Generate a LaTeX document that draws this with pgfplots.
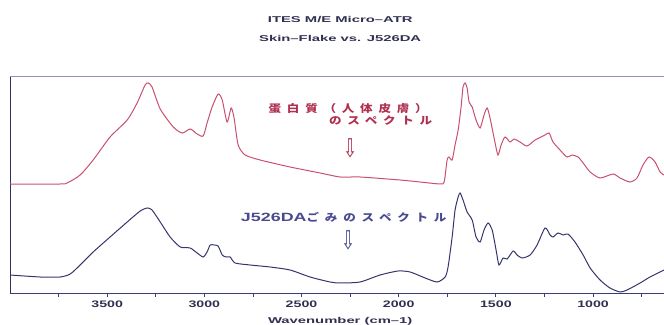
\documentclass[border=0pt]{standalone}
\usepackage{pgfplots}
\pgfplotsset{compat=1.18}
\usepackage{fontspec}
\setmainfont{Liberation Sans}
\newfontfamily\tickfont[FakeStretch=1.5]{Liberation Sans}
\newfontfamily\titlefont[FakeStretch=1.75]{Liberation Sans}
\newfontfamily\cjk[FakeStretch=1.2,LetterSpace=55]{Noto Sans CJK JP}
\newfontfamily\arrowfont[FakeStretch=0.65]{DejaVu Sans}
\definecolor{redline}{HTML}{C8506E}
\definecolor{redtext}{HTML}{B03050}
\definecolor{blueline}{HTML}{35356E}
\definecolor{bluetext}{HTML}{4A4A90}
\definecolor{axisc}{HTML}{3C3C78}
\definecolor{topc}{HTML}{9090C0}
\definecolor{titlec}{HTML}{303050}
\begin{document}
\begin{tikzpicture}
\begin{axis}[name=ax, scale only axis, width=654bp, height=217bp,
  x dir=reverse, xmin=635, xmax=4000, ymin=0, ymax=217,
  separate axis lines,
  axis x line*=bottom, axis y line*=left,
  x axis line style={draw=axisc, line width=0.9bp},
  y axis line style={draw=axisc!80!black, line width=0.9bp},
  ytick=\empty,
  xtick={1000,1500,2000,2500,3000,3500},
  minor xtick={750,1250,1750,2250,2750,3250,3750},
  tick align=outside, major tick length=4bp, minor tick length=4bp,
  tick style={draw=axisc, line width=0.8bp},
  /pgf/number format/assume math mode=true,
  /pgf/number format/1000 sep={},
  xticklabel style={font=\tickfont\bfseries\fontsize{9.5}{10}\selectfont, text=titlec},
  clip=false]
\draw[topc, line width=0.9bp] (rel axis cs:0,1) -- (rel axis cs:1,1);
\addplot[redline, line width=1bp, smooth, tension=0.4] coordinates {
(3999,109)(3742,109)(3706,110)(3639,118)(3572,133)(3485,156)(3397,173)(3346,190)(3305,208)(3289,210)(3269,206)(3227,184)(3160,166)(3114,160)(3073,164)(3037,159)(3006,157)(2986,170)(2960,186)(2929,199)(2908,193)(2883,171)(2862,185)(2847,175)(2826,148)(2790,138)(2713,133)(2559,126)(2404,120)(2301,116)(2199,116)(1993,113)(1890,111)(1787,109)(1766,111)(1751,133)(1741,136)(1725,133)(1710,148)(1694,163)(1679,186)(1669,206)(1658,210)(1648,205)(1638,191)(1622,186)(1602,173)(1581,165)(1561,178)(1545,185)(1530,175)(1504,150)(1489,138)(1473,148)(1453,156)(1427,151)(1406,154)(1376,151)(1340,147)(1298,153)(1247,158)(1226,160)(1206,151)(1170,143)(1134,136)(1108,138)(1077,136)(1051,130)(1015,121)(964,115)(897,119)(861,115)(810,111)(774,115)(743,128)(712,136)(681,131)(655,121)(635,118)
};
\addplot[blueline, line width=1bp, smooth, tension=0.4] coordinates {
(3999,18)(3845,16)(3742,16)(3690,19)(3639,28)(3572,41)(3485,56)(3397,71)(3330,82)(3294,85)(3269,83)(3227,71)(3176,56)(3124,46)(3073,45)(3037,40)(3006,36)(2986,41)(2970,48)(2950,48)(2929,47)(2908,38)(2888,36)(2867,36)(2842,30)(2764,28)(2662,26)(2559,23)(2456,16)(2353,11)(2301,10)(2199,11)(2096,18)(2003,22)(1941,21)(1864,15)(1802,11)(1761,16)(1746,26)(1725,56)(1710,83)(1694,96)(1684,100)(1669,93)(1648,81)(1622,73)(1602,56)(1581,51)(1561,63)(1540,70)(1519,63)(1499,43)(1484,28)(1463,35)(1442,34)(1411,42)(1391,38)(1365,35)(1324,38)(1288,48)(1247,65)(1221,58)(1206,56)(1180,60)(1154,58)(1129,59)(1093,51)(1051,38)(1015,25)(964,13)(913,5)(861,1)(825,3)(758,10)(707,16)(635,23)
};
\node[font=\titlefont\bfseries\fontsize{8.5}{10}\selectfont, text=titlec] at (axis cs:2301,273) {ITES M/E Micro–ATR};
\node[font=\titlefont\bfseries\fontsize{8.5}{10}\selectfont, text=titlec] at (axis cs:2301,255) {Skin–Flake vs. J526DA};
\node[font=\titlefont\bfseries\fontsize{8.5}{10}\selectfont, text=titlec] at (axis cs:2301,-28) {Wavenumber (cm–1)};
\node[font=\cjk\bfseries\fontsize{10.5}{12}\selectfont, text=redtext] at (axis cs:2260,184) {蛋白質（人体皮膚）};
\node[font=\cjk\bfseries\fontsize{10.5}{12}\selectfont, text=redtext] at (axis cs:2093,172) {のスペクトル};
\node[font=\arrowfont\fontsize{26}{28}\selectfont, text=redtext] at (axis cs:2250,145) {⇩};
\node[text=bluetext, inner sep=0pt] at (axis cs:2283,76) {{\tickfont\bfseries\fontsize{12}{13}\selectfont J526DA}{\cjk\bfseries\fontsize{10.5}{12}\selectfont ごみのスペクトル}};
\node[font=\arrowfont\fontsize{26}{28}\selectfont, text=bluetext] at (axis cs:2260,53) {⇩};
\end{axis}
\pgfresetboundingbox
\useasboundingbox ([xshift=-10bp,yshift=-32bp]ax.south west) rectangle ([yshift=76bp]ax.north east);
\end{tikzpicture}
\end{document}
